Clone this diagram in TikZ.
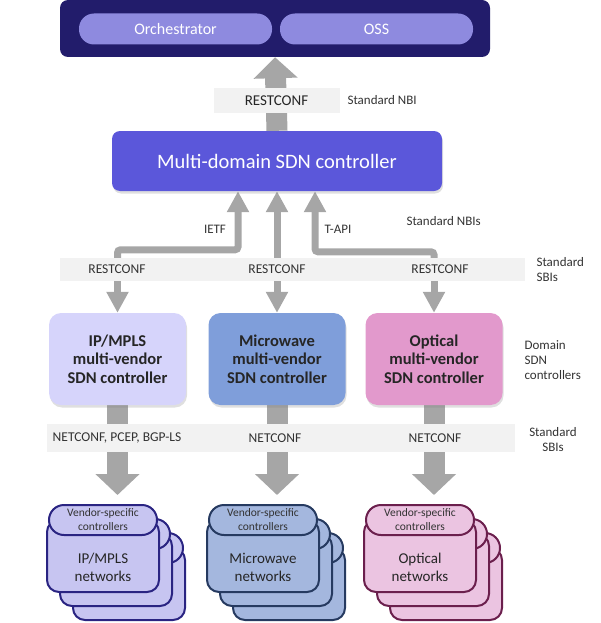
\documentclass[tikz,border=0pt]{standalone}
\usepackage{fontspec}
\setmainfont{Carlito}
\usetikzlibrary{arrows.meta,shadows,backgrounds}
\definecolor{navy}{HTML}{221C6B}
\definecolor{pillpurple}{HTML}{8E8ADF}
\definecolor{multiblue}{HTML}{5B57DA}
\definecolor{ipbox}{HTML}{D6D4FB}
\definecolor{mwbox}{HTML}{7F9EDA}
\definecolor{opbox}{HTML}{E299CC}
\definecolor{ipnet}{HTML}{C7C5F1}
\definecolor{mwnet}{HTML}{A4B7DE}
\definecolor{opnet}{HTML}{EBC4E1}
\definecolor{ipline}{HTML}{2A2482}
\definecolor{mwline}{HTML}{263A60}
\definecolor{opline}{HTML}{6B1F4D}
\definecolor{arrowgray}{HTML}{A6A6A6}
\definecolor{bandgray}{HTML}{F2F2F2}
\definecolor{labelgray}{HTML}{333333}

\begin{document}
\begin{tikzpicture}[x=1pt,y=-1pt,
  toppill/.style={fill=pillpurple,text=white,rounded corners=15pt,minimum width=193pt,minimum height=31pt,font=\fontsize{16}{18}\selectfont},
  bandbox/.style={fill=bandgray,inner sep=0pt},
  bandtext/.style={text=labelgray,font=\fontsize{13.5}{15}\selectfont},
  sidetext/.style={text=labelgray,font=\fontsize{13}{15}\selectfont,align=left},
  domainbox/.style={rounded corners=12pt,minimum width=137pt,minimum height=92pt,align=center,text=black!85,font=\fontsize{16.5}{18.5}\selectfont\bfseries,drop shadow={shadow xshift=1pt,shadow yshift=-2.5pt,opacity=.25}},
  netcard/.style={draw,line width=2pt,rounded corners=12pt,minimum width=112pt,minimum height=72pt},
  netpill/.style={draw,line width=2pt,rounded corners=15pt,minimum width=108pt,minimum height=30pt},
  thinarrow/.style={draw=arrowgray,line width=7pt,rounded corners=3pt,-{Triangle[length=21pt,width=21pt]}},
  fatarrow/.style={draw=arrowgray,line width=21pt,-{Triangle[length=21pt,width=43pt]}}]

 \useasboundingbox (0,0) rectangle (600,623);

 \node [fill=navy,rounded corners=8pt,minimum width=430pt,minimum height=57pt] (top) at (275,28.5) {};
 \node [toppill] (orch) at (175.5,29) {Orchestrator};
 \node [toppill] (oss) at (376.5,29) {OSS};

 \node [fill=multiblue,rounded corners=8pt,minimum width=330pt,minimum height=60pt,text=white,font=\fontsize{20.5}{24}\selectfont,drop shadow={shadow xshift=1pt,shadow yshift=-2.5pt,opacity=.25}] (multi) at (277,161) {Multi-domain SDN controller};

 \foreach \n/\x/\c in {ip/117.5/ipbox,mw/277/mwbox,op/434/opbox}
   \node [domainbox,fill=\c] (\n) at (\x,359) {};
 \node [align=center,font=\fontsize{16.5}{18.5}\selectfont\bfseries,text=black!85] (ip-txt) at (ip) {IP/MPLS\\multi-vendor\\SDN controller};
 \node [align=center,font=\fontsize{16.5}{18.5}\selectfont\bfseries,text=black!85] (mw-txt) at (mw) {Microwave\\multi-vendor\\SDN controller};
 \node [align=center,font=\fontsize{16.5}{18.5}\selectfont\bfseries,text=black!85] (op-txt) at (op) {Optical\\multi-vendor\\SDN controller};

 \node [bandbox,minimum width=126pt,minimum height=25pt,text=black!85,font=\fontsize{15}{17}\selectfont] (nbi) at (276.5,100.5) {RESTCONF};
 \node [bandbox,minimum width=465pt,minimum height=23pt] (sbi) at (292.5,269.5) {};
 \node [bandbox,minimum width=468pt,minimum height=28pt] (netband) at (281,438) {};

 \foreach \n/\x in {ip/117,mw/277,op/440}
   \node [bandtext] (\n-rc) at (\x,269) {RESTCONF};
 \foreach \n/\x/\t in {ip/117/{NETCONF, PCEP, BGP-LS},mw/275/NETCONF,op/435/NETCONF}
   \node [bandtext] (\n-nc) at (\x,438) {\t};

 \node [sidetext,anchor=west] (nbi-lbl) at (344,100) {Standard NBI};
 \node [sidetext,anchor=west] (nbis-lbl) at (403,221) {Standard NBIs};
 \node [sidetext,anchor=west] (sbi-lbl) at (533,269.5) {Standard\\SBIs};
 \node [sidetext,anchor=west] (dom-lbl) at (521,360) {Domain\\SDN\\controllers};
 \node [sidetext,align=center] (sbi2-lbl) at (553,439.5) {Standard\\SBIs};
 \node [sidetext] (ietf) at (215,229) {IETF};
 \node [sidetext] (tapi) at (338,229) {T-API};

 \foreach \n/\x/\f/\d/\t in {ip/103/ipnet/ipline/{IP/MPLS},mw/263/mwnet/mwline/Microwave,op/420/opnet/opline/Optical}
   {\foreach \k in {2,1,0}
      {\node [netcard,fill=\f,draw=\d] (\n-card\k) at (\x+13*\k,556+14*\k) {};
       \node [netpill,fill=\f,draw=\d] (\n-pill\k) at (\x+13*\k,520+14*\k) {};}
    \node [font=\fontsize{11.5}{14}\selectfont,align=center,text=black!80,inner sep=0pt] (\n-vendor) at (\n-pill0) {Vendor-specific\\controllers};
    \node [font=\fontsize{15}{18}\selectfont,align=center,text=black!85] (\n-net) at ([yshift=-11pt]\n-card0.center) {\t\\networks};}

 \begin{scope}[on background layer]
  \draw [fatarrow] (multi.north) -- (top.south);
  \draw [thinarrow] (ip.north |- sbi.north) -- ++(0,-8) -| ([xshift=-39pt]multi.south);
  \draw [thinarrow] (sbi.north -| multi.south) -- (multi.south);
  \draw [thinarrow] (op.north |- sbi.north) -- ++(0,-6) -| ([xshift=38pt]multi.south);
  \foreach \n in {ip,mw,op}
    {\draw [thinarrow] (\n.north |- sbi.south) -- (\n.north);
     \draw [fatarrow,shorten >=9pt] (\n.south) -- (\n.south |- \n-pill0.north);}
 \end{scope}
\end{tikzpicture}
\end{document}
